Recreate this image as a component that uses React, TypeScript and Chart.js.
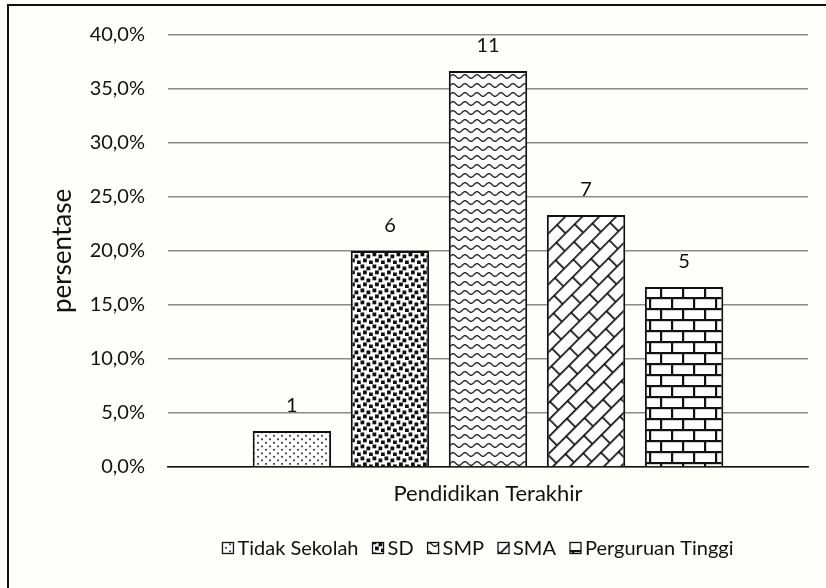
import React, { useEffect, useRef } from "react";
import { Chart, registerables } from "chart.js";

Chart.register(...registerables);

// Respondents by last education level
const categories = ["Tidak Sekolah", "SD", "SMP", "SMA", "Perguruan Tinggi"];
const counts = [1, 6, 11, 7, 5];
const axisCategory = ["Pendidikan Terakhir"];
const yTicksMax = 40;
const yTicksStep = 5;

const FONT = "Lato, 'Open Sans', sans-serif";
const INK = "#111111";

const total = counts.reduce((a, b) => a + b, 0);
const percentages = counts.map((c) => (c / total) * 100);

function makeTile(w: number, h: number, draw: (g: CanvasRenderingContext2D) => void) {
  const c = document.createElement("canvas");
  c.width = w;
  c.height = h;
  const g = c.getContext("2d")!;
  g.fillStyle = "#ffffff";
  g.fillRect(0, 0, w, h);
  draw(g);
  return c;
}

function buildPatterns(ctx: CanvasRenderingContext2D): CanvasPattern[] {
  // sparse dots
  const dots = makeTile(8, 7, (g) => {
    g.fillStyle = "#4a4a4a";
    [[2, 1.8], [6, 5.3]].forEach(([x, y]) => {
      g.beginPath();
      g.arc(x, y, 1.15, 0, Math.PI * 2);
      g.fill();
    });
  });
  // dense squares, staggered
  const squares = makeTile(12, 12, (g) => {
    g.fillStyle = "#111";
    const pts = [[0.5, 0.5], [6.5, 2.5], [3, 6.5], [9, 8.5], [-3, 8.5]];
    pts.forEach(([x, y]) => g.fillRect(x, y, 3.8, 3.8));
  });
  // waves
  const waves = makeTile(12, 9, (g) => {
    g.strokeStyle = "#2a2a2a";
    g.lineWidth = 1.4;
    g.beginPath();
    for (let x = -1; x <= 13; x += 0.5) {
      const y = 4.5 + 1.8 * Math.sin((2 * Math.PI * x) / 12);
      if (x === -1) g.moveTo(x, y);
      else g.lineTo(x, y);
    }
    g.stroke();
  });
  // brick (rotated for the diagonal variant)
  const brick = (bw: number, rh: number, lw: number) =>
    makeTile(bw, rh * 2, (g) => {
      g.fillStyle = "#111";
      g.fillRect(0, 0, bw, lw);
      g.fillRect(0, rh, bw, lw);
      g.fillRect(0, 0, lw, rh);
      g.fillRect(bw / 2, rh, lw, rh);
    });
  const diag = brick(26, 12, 1.7);
  const flat = brick(22, 11, 2.2);

  const p1 = ctx.createPattern(dots, "repeat")!;
  const p2 = ctx.createPattern(squares, "repeat")!;
  const p3 = ctx.createPattern(waves, "repeat")!;
  const p4 = ctx.createPattern(diag, "repeat")!;
  p4.setTransform(new DOMMatrix().rotateSelf(-45));
  const p5 = ctx.createPattern(flat, "repeat")!;
  return [p1, p2, p3, p4, p5];
}

const valueLabels = {
  id: "valueLabels",
  afterDatasetsDraw(chart: any) {
    const { ctx } = chart;
    ctx.save();
    ctx.font = `20px ${FONT}`;
    ctx.fillStyle = INK;
    ctx.textAlign = "center";
    ctx.textBaseline = "middle";
    chart.data.datasets.forEach((ds: any, i: number) => {
      const meta = chart.getDatasetMeta(i);
      const bar = meta.data[0];
      if (!bar) return;
      ctx.fillText(String(counts[i]), bar.x, bar.y - 25);
    });
    ctx.restore();
  },
};

const bottomLegend = {
  id: "bottomLegend",
  afterDraw(chart: any) {
    const { ctx } = chart;
    const box = 11;
    const gapText = 4;
    const gapItem = 14;
    const cy = 548;
    ctx.save();
    ctx.font = `20px ${FONT}`;
    ctx.textBaseline = "middle";
    const widths = categories.map((t) => ctx.measureText(t).width);
    const totalW =
      widths.reduce((a, w) => a + box + gapText + w, 0) + gapItem * (categories.length - 1);
    let x = 478 - totalW / 2;
    categories.forEach((t, i) => {
      const ds = chart.data.datasets[i];
      ctx.fillStyle = ds.backgroundColor;
      ctx.fillRect(x, cy - box / 2, box, box);
      ctx.strokeStyle = INK;
      ctx.lineWidth = 1.3;
      ctx.strokeRect(x, cy - box / 2, box, box);
      ctx.fillStyle = INK;
      ctx.fillText(t, x + box + gapText, cy + 1);
      x += box + gapText + widths[i] + gapItem;
    });
    ctx.restore();
  },
};

export default function App() {
  const ref = useRef<HTMLCanvasElement | null>(null);

  useEffect(() => {
    const canvas = ref.current!;
    const ctx = canvas.getContext("2d")!;
    const patterns = buildPatterns(ctx);

    const chart = new Chart(canvas, {
      type: "bar",
      data: {
        labels: axisCategory,
        datasets: categories.map((name, i) => ({
          label: name,
          data: [percentages[i]],
          backgroundColor: patterns[i] as any,
          borderColor: INK,
          borderWidth: 2,
          categoryPercentage: 0.766,
          barPercentage: 0.8,
        })),
      },
      options: {
        responsive: false,
        animation: false,
        layout: { padding: { left: 0, right: 18, top: 35, bottom: 0 } },
        plugins: {
          legend: { display: false },
          tooltip: { enabled: false },
        },
        scales: {
          x: {
            grid: { display: false, drawTicks: false },
            border: { display: true, color: INK, width: 1.5 },
            ticks: { color: INK, font: { family: FONT, size: 22 }, padding: 14 },
            afterFit: (s: any) => {
              s.height = 121;
            },
          },
          y: {
            min: 0,
            max: yTicksMax,
            grid: { color: "#8a8a8a", lineWidth: 1.5, drawTicks: false },
            border: { display: false },
            ticks: {
              stepSize: yTicksStep,
              color: INK,
              padding: 23,
              font: { family: FONT, size: 20 },
              callback: (v: any) => Number(v).toFixed(1).replace(".", ",") + "%",
            },
            title: {
              display: true,
              text: "persentase",
              color: INK,
              font: { family: FONT, size: 26 },
              padding: { top: 47, bottom: 0 },
            },
            afterFit: (s: any) => {
              s.width = 168;
            },
          },
        },
      },
      plugins: [valueLabels, bottomLegend],
    });
    return () => chart.destroy();
  }, []);

  return (
    <div
      style={{
        position: "fixed",
        left: 0,
        top: 0,
        width: 826,
        height: 588,
        overflow: "hidden",
        background: "#fefefa",
      }}
    >
      <canvas ref={ref} width={826} height={588} style={{ position: "absolute", left: 0, top: 0 }} />
      <div
        style={{
          position: "absolute",
          left: 7,
          top: 4,
          width: 900,
          height: 700,
          border: `2px solid ${INK}`,
          pointerEvents: "none",
        }}
      />
    </div>
  );
}
